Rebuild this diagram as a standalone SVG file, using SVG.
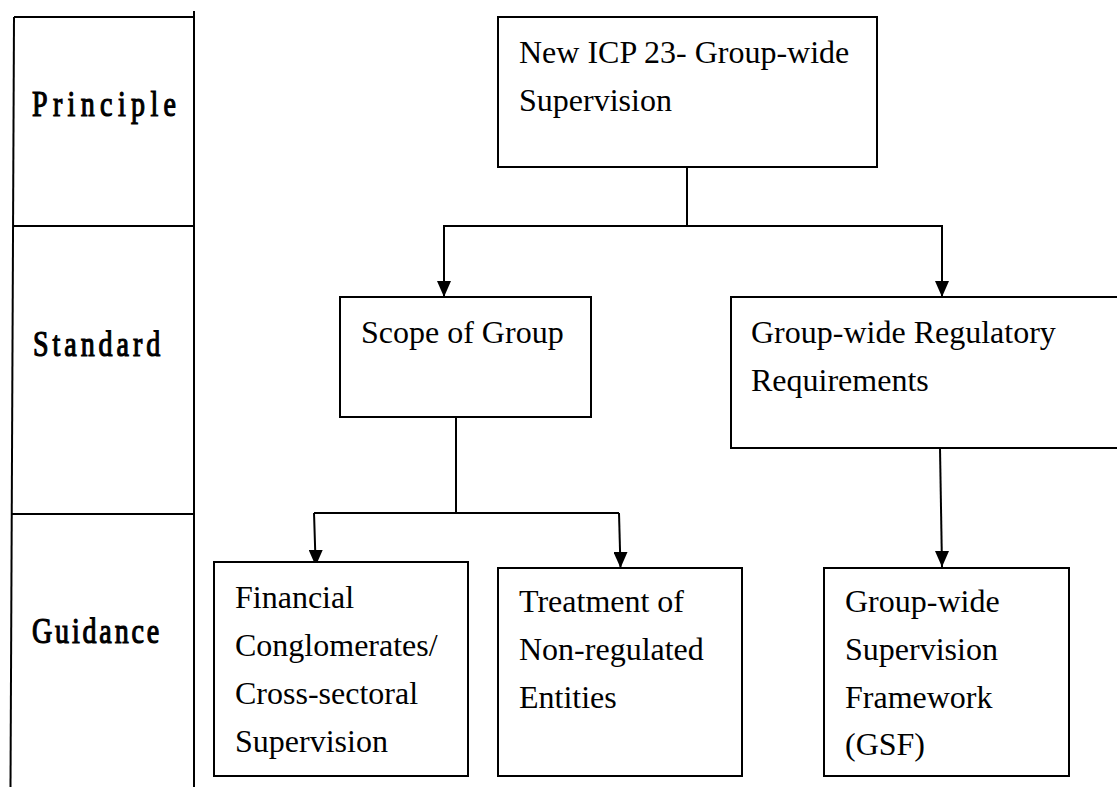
<svg xmlns="http://www.w3.org/2000/svg" width="1117" height="787" viewBox="0 0 1117 787">
  <style>
    .box { fill: #ffffff; stroke: #000000; stroke-width: 2; }
    .rule { fill: none; stroke: #000000; stroke-width: 2; }
    .wire { fill: none; stroke: #000000; stroke-width: 2; }
    .label { font-family: "Liberation Serif", "Times New Roman", serif; font-size: 32px; fill: #000000; }
    .tier { font-family: "Liberation Serif", "Times New Roman", serif; font-size: 35px; fill: #000000; stroke: #000000; stroke-width: 1.2; }
  </style>
  <defs>
    <marker id="arrowDown" viewBox="0 0 14 16" refX="7" refY="16" markerWidth="14" markerHeight="16" markerUnits="userSpaceOnUse" orient="0">
      <path d="M0,0 L14,0 L7,16 Z" fill="#000000"/>
    </marker>
  </defs>

  <rect width="1117" height="787" fill="#ffffff"/>

  <!-- tier column on the left -->
  <g id="tiers">
    <line class="rule" x1="14" y1="17" x2="10.5" y2="787"/>
    <line class="rule" x1="194" y1="11" x2="194" y2="787"/>
    <line class="rule" x1="14" y1="17" x2="194" y2="17"/>
    <line class="rule" x1="13" y1="226" x2="194" y2="226"/>
    <line class="rule" x1="12" y1="514" x2="194" y2="514"/>
    <text id="tier-principle" class="tier" transform="translate(32,116) scale(0.8,1)" textLength="180" lengthAdjust="spacing">Principle</text>
    <text id="tier-standard" class="tier" transform="translate(33,356) scale(0.8,1)" textLength="159" lengthAdjust="spacing">Standard</text>
    <text id="tier-guidance" class="tier" transform="translate(32,643) scale(0.8,1)" textLength="159" lengthAdjust="spacing">Guidance</text>
  </g>

  <!-- connectors -->
  <g id="connectors">
    <polyline class="wire" points="687,167 687,226"/>
    <polyline class="wire" points="444,296 444,226 942,226 942,296"/>
    <line class="wire" x1="444" y1="240" x2="444" y2="297" marker-end="url(#arrowDown)"/>
    <line class="wire" x1="942" y1="240" x2="942" y2="297" marker-end="url(#arrowDown)"/>
    <polyline class="wire" points="456,417 456,513"/>
    <polyline class="wire" points="314,513 619,513"/>
    <line class="wire" x1="314" y1="513" x2="315.7" y2="566" marker-end="url(#arrowDown)"/>
    <line class="wire" x1="619" y1="513" x2="620.5" y2="568" marker-end="url(#arrowDown)"/>
    <line class="wire" x1="940" y1="448" x2="942" y2="567" marker-end="url(#arrowDown)"/>
  </g>

  <g id="icp23">
    <rect class="box" x="498" y="17" width="379" height="150"/>
    <text class="label" x="519" y="63">New ICP 23- Group-wide</text>
    <text class="label" x="519" y="111">Supervision</text>
  </g>

  <g id="scope-of-group">
    <rect class="box" x="340" y="297" width="251" height="120"/>
    <text class="label" x="361" y="343">Scope of Group</text>
  </g>

  <g id="group-wide-requirements">
    <rect class="box" x="731" y="297" width="400" height="151"/>
    <text class="label" x="751" y="343">Group-wide Regulatory</text>
    <text class="label" x="751" y="391">Requirements</text>
  </g>

  <g id="financial-conglomerates">
    <rect class="box" x="214" y="562" width="254" height="214"/>
    <text class="label" x="235" y="608">Financial</text>
    <text class="label" x="235" y="656">Conglomerates/</text>
    <text class="label" x="235" y="704">Cross-sectoral</text>
    <text class="label" x="235" y="752">Supervision</text>
  </g>

  <g id="non-regulated-entities">
    <rect class="box" x="498" y="568" width="244" height="208"/>
    <text class="label" x="519" y="612">Treatment of</text>
    <text class="label" x="519" y="660">Non-regulated</text>
    <text class="label" x="519" y="708">Entities</text>
  </g>

  <g id="gsf">
    <rect class="box" x="824" y="568" width="245" height="208"/>
    <text class="label" x="845" y="612">Group-wide</text>
    <text class="label" x="845" y="660">Supervision</text>
    <text class="label" x="845" y="708">Framework</text>
    <text class="label" x="845" y="755">(GSF)</text>
  </g>
</svg>
